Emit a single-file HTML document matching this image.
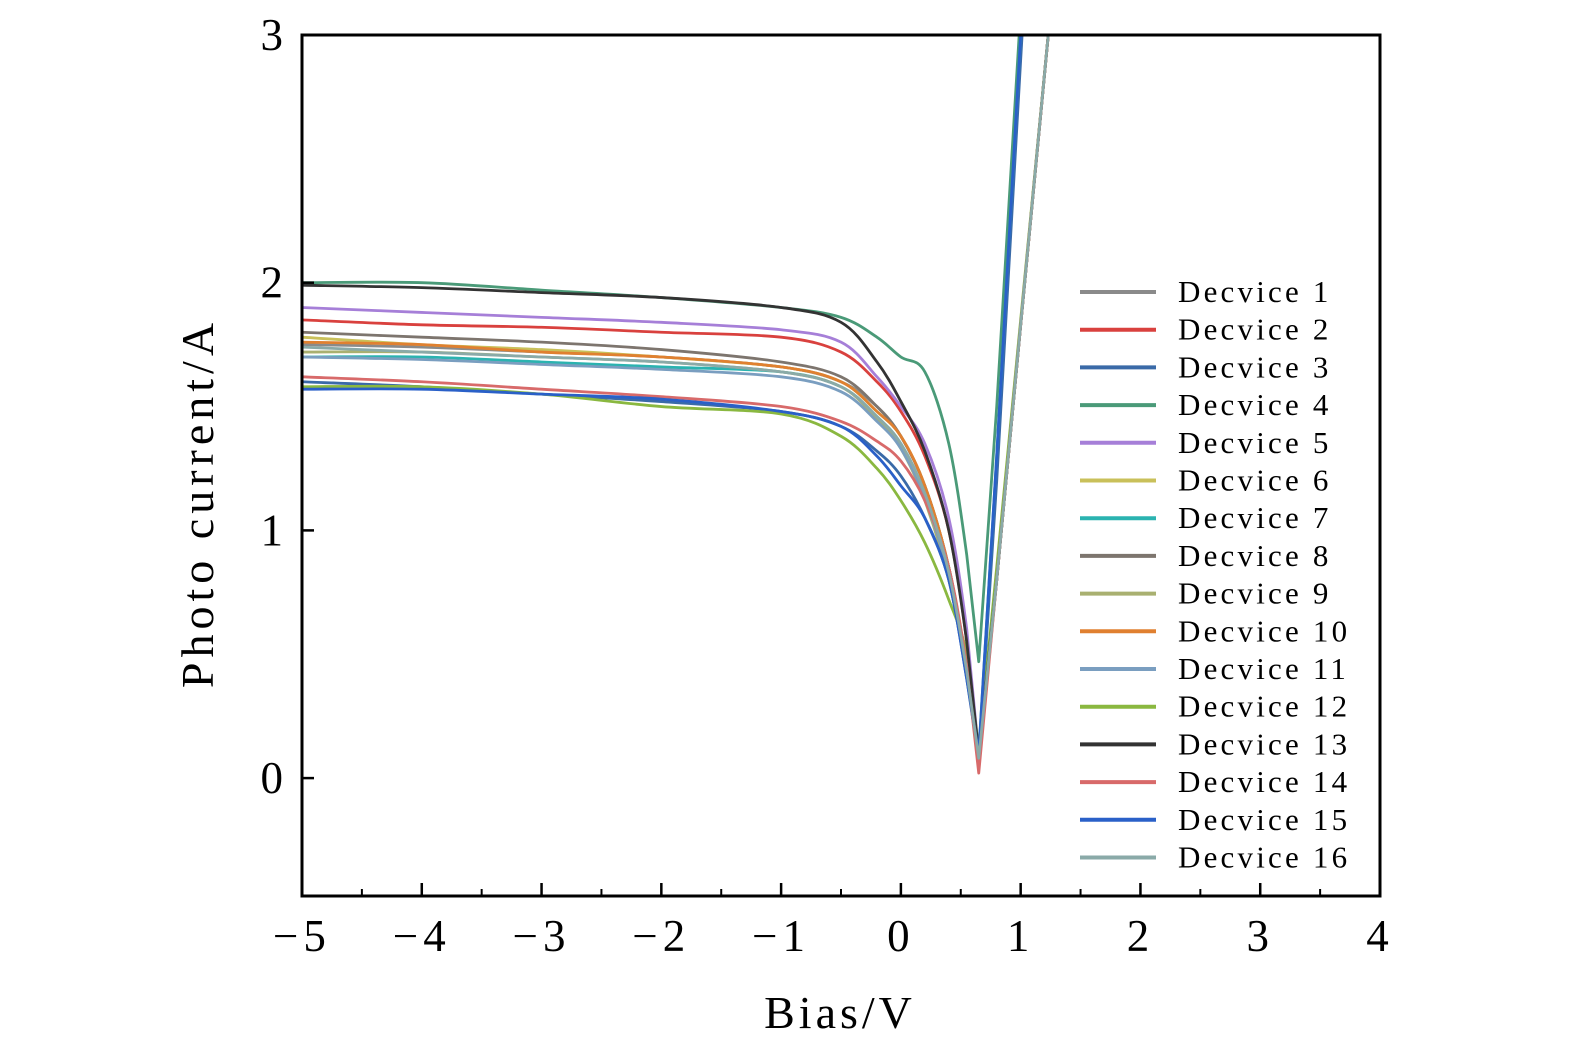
<!DOCTYPE html>
<html><head><meta charset="utf-8"><style>
body{margin:0;background:#fff;}
svg{display:block;font-family:"Liberation Serif",serif;}
</style></head><body>
<svg id="chart" width="1575" height="1053" viewBox="0 0 1575 1053">
<defs><clipPath id="plotclip"><rect x="302" y="35" width="1078" height="861"/></clipPath></defs>
<g id="series" clip-path="url(#plotclip)"></g>
<rect x="302" y="35" width="1078" height="861" fill="none" stroke="#000" stroke-width="3"/>
<g id="axes"></g>
<g id="legend"></g>
<text x="840" y="1028" font-size="46" letter-spacing="4" text-anchor="middle">Bias/V</text>
<text transform="translate(213,503) rotate(-90)" font-size="46" letter-spacing="5" text-anchor="middle">Photo current/A</text>
</svg>
<script>
const xGrid=[-5,-4,-3,-2,-1,-0.5,-0.2,0,0.2,0.4,0.55,0.65,0.8,1.0,1.25];
const deviceNames=["Decvice 1","Decvice 2","Decvice 3","Decvice 4","Decvice 5","Decvice 6","Decvice 7","Decvice 8","Decvice 9","Decvice 10","Decvice 11","Decvice 12","Decvice 13","Decvice 14","Decvice 15","Decvice 16"];
const colors=["#8a8a8a","#d9413e","#3a6aa8","#4a9a78","#a67fd8","#c9c05a","#2bb3b0","#7d756e","#a9b070","#e08030","#7a9ec0","#8ab840","#333333","#d86a6a","#2a60c8","#8aaaa8"];
const d1=[1.75,1.74,1.72,1.70,1.66,1.60,1.50,1.38,1.18,0.85,0.45,0.08,0.8,1.83,3.1];
const d2=[1.85,1.83,1.82,1.80,1.78,1.72,1.60,1.48,1.30,1.00,0.55,0.05,0.8,1.83,3.1];
const d3=[1.60,1.58,1.55,1.52,1.48,1.42,1.32,1.22,1.05,0.80,0.40,0.08,1.2,2.9,5];
const d4=[2.00,2.00,1.97,1.94,1.90,1.86,1.78,1.70,1.64,1.35,0.90,0.47,1.5,3.1,5];
const d5=[1.90,1.88,1.86,1.84,1.81,1.76,1.62,1.50,1.35,1.05,0.6,0.1,0.8,1.83,3.1];
const d6=[1.78,1.75,1.73,1.70,1.66,1.60,1.48,1.38,1.18,0.85,0.45,0.1,0.8,1.83,3.1];
const d7=[1.70,1.70,1.68,1.66,1.64,1.58,1.46,1.35,1.15,0.85,0.45,0.1,1.3,3.0,5];
const d8=[1.80,1.78,1.76,1.73,1.68,1.62,1.50,1.38,1.18,0.85,0.45,0.08,0.8,1.83,3.1];
const d9=[1.72,1.72,1.70,1.68,1.64,1.58,1.45,1.33,1.12,0.8,0.42,0.1,0.8,1.83,3.1];
const d10=[1.76,1.75,1.72,1.70,1.66,1.60,1.48,1.38,1.18,0.85,0.45,0.08,0.8,1.83,3.1];
const d11=[1.70,1.69,1.67,1.65,1.62,1.56,1.44,1.33,1.13,0.82,0.42,0.08,0.8,1.83,3.1];
const d12=[1.58,1.58,1.55,1.50,1.47,1.38,1.25,1.12,0.95,0.72,0.50,0.12,0.85,1.85,3.1];
const d13=[1.99,1.98,1.96,1.94,1.90,1.84,1.68,1.52,1.32,1.0,0.55,0.1,0.8,1.83,3.1];
const d14=[1.62,1.60,1.57,1.54,1.50,1.44,1.36,1.28,1.12,0.85,0.45,0.02,0.8,1.83,3.1];
const d15=[1.57,1.57,1.55,1.53,1.48,1.42,1.30,1.18,1.05,0.80,0.40,0.1,1.3,3.0,5];
const d16=[1.74,1.72,1.70,1.68,1.64,1.58,1.46,1.35,1.15,0.83,0.43,0.08,0.8,1.83,3.1];
const seriesValues=[d1,d2,d3,d4,d5,d6,d7,d8,d9,d10,d11,d12,d13,d14,d15,d16];
const xTicks=[-5,-4,-3,-2,-1,0,1,2,3,4];
const xTickLabels=["\u22125","\u22124","\u22123","\u22122","\u22121","0","1","2","3","4"];
const yTicks=[0,1,2,3];
const yTickLabels=["0","1","2","3"];

const NS="http://www.w3.org/2000/svg";
const X0=302,X1=1380,Y0=896,Y1=35,xmin=-5,xmax=4,ymin=-0.476,ymax=3;
const sx=v=>X0+(v-xmin)/(xmax-xmin)*(X1-X0);
const sy=v=>Y0-(v-ymin)/(ymax-ymin)*(Y0-Y1);
function mk(tag,attrs,parent){const e=document.createElementNS(NS,tag);for(const k in attrs)e.setAttribute(k,attrs[k]);parent.appendChild(e);return e;}
const series=document.getElementById('series');
seriesValues.forEach((vals,i)=>{
  let d='M'+sx(xGrid[0])+','+sy(vals[0]);
  for(let j=0;j<vals.length-1;j++){
    const p0=[sx(xGrid[Math.max(j-1,0)]),sy(vals[Math.max(j-1,0)])],p1=[sx(xGrid[j]),sy(vals[j])],p2=[sx(xGrid[j+1]),sy(vals[j+1])],p3=[sx(xGrid[Math.min(j+2,vals.length-1)]),sy(vals[Math.min(j+2,vals.length-1)])];
    const t=(j>=10)?0:1/6;
    d+=' C'+(p1[0]+(p2[0]-p0[0])*t)+','+(p1[1]+(p2[1]-p0[1])*t)+' '+(p2[0]-(p3[0]-p1[0])*t)+','+(p2[1]-(p3[1]-p1[1])*t)+' '+p2[0]+','+p2[1];
  }
  const p=mk('path',{d:d,fill:'none',stroke:colors[i],'stroke-width':2.8,'stroke-linejoin':'round'},series);
  
  
});
const axes=document.getElementById('axes');
xTicks.forEach((v,i)=>{
  const l=mk('line',{x1:sx(v),x2:sx(v),y1:Y0,y2:Y0-13,stroke:'#000','stroke-width':2.5},axes);
  
  
  if(i<xTicks.length-1){
    const m=mk('line',{x1:sx(v+0.5),x2:sx(v+0.5),y1:Y0,y2:Y0-7,stroke:'#000','stroke-width':2},axes);
    
    
  }
  const t=mk('text',{x:sx(v),y:951,'font-size':45,'letter-spacing':'5','text-anchor':'middle'},axes);
  t.textContent=xTickLabels[i];
  
  
});
yTicks.forEach((v,i)=>{
  const l=mk('line',{x1:X0,x2:X0+12,y1:sy(v),y2:sy(v),stroke:'#000','stroke-width':2.5},axes);
  
  
  const t=mk('text',{x:283,y:sy(v)+15,'font-size':45,'text-anchor':'end'},axes);
  t.textContent=yTickLabels[i];
  
  
});
const legend=document.getElementById('legend');
deviceNames.forEach((n,i)=>{
  const y=292+i*37.7;
  const l=mk('line',{x1:1080,x2:1156,y1:y,y2:y,stroke:colors[i],'stroke-width':4},legend);
  
  
  const t=mk('text',{x:1178,y:y+10,'font-size':31,'letter-spacing':'3.2'},legend);
  t.textContent=n;
  
  
});
</script>
</body></html>
